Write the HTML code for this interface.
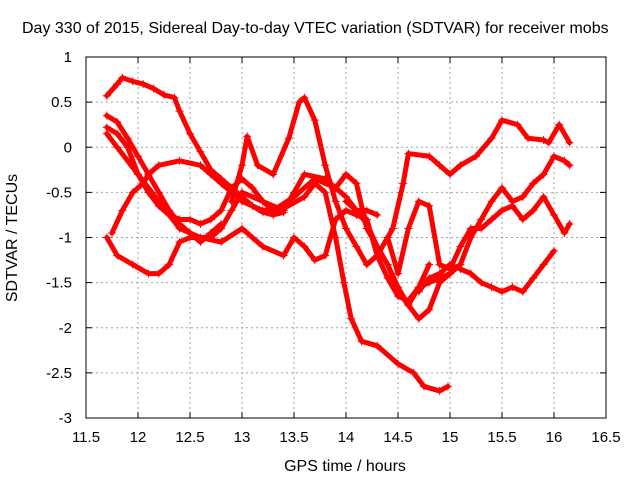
<!DOCTYPE html>
<html><head><meta charset="utf-8"><style>
body{margin:0;background:#fff}
svg text{font-family:"Liberation Sans",sans-serif;font-size:15px;fill:#000}
svg text.big{font-size:16px}
</style></head><body>
<svg id="chart" width="640" height="480">
<rect width="640" height="480" fill="#fff"/>
<g id="grid"></g>
<g id="axes"></g>
<g id="series"></g>
<rect x="86" y="57" width="520" height="361" fill="none" stroke="#000" stroke-width="1"/>
<text class="big" x="22" y="33">Day 330 of 2015, Sidereal Day-to-day VTEC variation (SDTVAR) for receiver mobs</text>
<text class="big" x="345" y="471" text-anchor="middle">GPS time / hours</text>
<text class="big" transform="translate(17,238) rotate(-90)" text-anchor="middle">SDTVAR / TECUs</text>
</svg>
<script>
const xTicks=[11.5,12,12.5,13,13.5,14,14.5,15,15.5,16,16.5];
const xTickLabels=["11.5","12","12.5","13","13.5","14","14.5","15","15.5","16","16.5"];
const yTicks=[1,0.5,0,-0.5,-1,-1.5,-2,-2.5,-3];
const yTickLabels=["1","0.5","0","-0.5","-1","-1.5","-2","-2.5","-3"];
const t1x=[11.7,11.8,11.85,11.95,12.05,12.15,12.25,12.35,12.4,12.5,12.6,12.7,12.8,12.9,13.0,13.1,13.2,13.3,13.4];
const t1y=[0.57,0.7,0.77,0.73,0.7,0.65,0.58,0.55,0.4,0.15,-0.05,-0.25,-0.35,-0.45,-0.55,-0.65,-0.72,-0.75,-0.72];
const t2x=[11.7,11.8,11.95,12.1,12.2,12.3,12.4,12.5,12.7,12.8,12.9,13.0,13.2,13.4,13.5,13.6,13.8,13.9,14.0,14.1,14.2,14.3,14.4,14.5,14.6,14.7,14.8,14.9,15.0,15.1];
const t2y=[-1.0,-1.2,-1.3,-1.4,-1.4,-1.3,-1.05,-1.0,-1.0,-0.9,-0.7,-0.5,-0.6,-0.7,-0.5,-0.3,-0.35,-0.45,-0.3,-0.4,-0.9,-1.1,-1.3,-1.6,-1.75,-1.55,-1.5,-1.45,-1.4,-1.3];
const t3x=[11.75,11.85,11.95,12.05,12.1,12.2,12.4,12.6,12.7,12.8,12.9,13.0,13.2,13.4,13.6,13.7,13.8,13.9,13.98,14.05,14.15,14.3,14.5,14.65,14.75,14.9,14.98];
const t3y=[-0.95,-0.7,-0.5,-0.4,-0.3,-0.2,-0.15,-0.2,-0.3,-0.4,-0.5,-0.6,-0.7,-0.68,-0.55,-0.4,-0.5,-1.0,-1.5,-1.9,-2.15,-2.2,-2.4,-2.5,-2.65,-2.7,-2.65];
const t4x=[11.7,11.8,11.9,12.0,12.1,12.2,12.3,12.4,12.5,12.6,12.7,12.8];
const t4y=[0.35,0.28,0.1,-0.1,-0.3,-0.5,-0.7,-0.85,-0.95,-1.05,-0.95,-0.85];
const t5x=[11.7,11.8,11.9,12.0,12.1,12.2,12.3,12.4,12.5,12.6,12.7,12.8,12.9,13.0,13.1,13.2,13.3,13.5,13.7,13.9,14.0,14.1,14.2,14.3];
const t5y=[0.22,0.15,0.0,-0.3,-0.5,-0.65,-0.75,-0.8,-0.8,-0.85,-0.8,-0.7,-0.45,-0.35,-0.45,-0.6,-0.7,-0.55,-0.35,-0.45,-0.55,-0.7,-0.7,-0.75];
const t6x=[11.7,11.8,12.0,12.2,12.4,12.6,12.8,13.0,13.2,13.4,13.5,13.6,13.7,13.8,13.9,14.0,14.1,14.2,14.3,14.4,14.5,14.6,14.7,14.8];
const t6y=[0.15,0.0,-0.3,-0.6,-0.9,-1.0,-1.05,-0.9,-1.1,-1.2,-1.0,-1.1,-1.25,-1.2,-0.8,-0.7,-0.75,-0.8,-1.2,-1.45,-1.65,-1.7,-1.55,-1.3];
const t7x=[12.9,13.0,13.05,13.15,13.3,13.45,13.55,13.6,13.7,13.8,13.9,14.0,14.1,14.2,14.3,14.45,14.55,14.6,14.8,14.9,15.0,15.1,15.25,15.4,15.5,15.65,15.75,15.9,15.95,16.05,16.15];
const t7y=[-0.6,-0.2,0.12,-0.2,-0.3,0.1,0.5,0.55,0.3,-0.2,-0.6,-0.9,-1.1,-1.3,-1.2,-0.9,-0.4,-0.07,-0.1,-0.2,-0.3,-0.2,-0.1,0.1,0.3,0.25,0.1,0.08,0.05,0.25,0.05];
const t8x=[14.0,14.1,14.2,14.3,14.4,14.5,14.6,14.7,14.8,14.9,15.0,15.1,15.2,15.3,15.4,15.5,15.6,15.7,15.8,15.9,16.0,16.1,16.15];
const t8y=[-0.6,-0.7,-0.85,-1.1,-1.3,-1.55,-1.75,-1.9,-1.8,-1.5,-1.4,-1.3,-1.0,-0.8,-0.6,-0.45,-0.6,-0.55,-0.4,-0.3,-0.1,-0.15,-0.2];
const t9x=[14.4,14.5,14.6,14.7,14.8,14.9,15.0,15.1,15.2,15.3,15.4,15.5,15.6,15.7,15.8,15.9,16.0,16.1,16.15];
const t9y=[-1.0,-1.4,-0.9,-0.6,-0.65,-1.3,-1.35,-1.1,-0.9,-0.9,-0.8,-0.7,-0.65,-0.8,-0.7,-0.55,-0.75,-0.95,-0.85];
const t10x=[14.7,14.8,14.9,15.0,15.1,15.2,15.3,15.4,15.5,15.6,15.7,15.8,15.9,16.0];
const t10y=[-1.6,-1.45,-1.4,-1.3,-1.35,-1.4,-1.5,-1.55,-1.6,-1.55,-1.6,-1.45,-1.3,-1.15];
const tracks=[[t1x,t1y],[t2x,t2y],[t3x,t3y],[t4x,t4y],[t5x,t5y],[t6x,t6y],[t7x,t7y],[t8x,t8y],[t9x,t9y],[t10x,t10y]];

const NS="http://www.w3.org/2000/svg";
const X0=86,X1=606,Y0=418,Y1=57;
function sx(v){return X0+(v-11.5)/(16.5-11.5)*(X1-X0);}
function sy(v){return Y0-(v+3)/4*(Y0-Y1);}
function mk(tag,attrs,parent){const e=document.createElementNS(NS,tag);for(const k in attrs)e.setAttribute(k,attrs[k]);parent.appendChild(e);return e;}
const grid=document.getElementById('grid'),axes=document.getElementById('axes'),ser=document.getElementById('series');
xTicks.forEach((t,i)=>{const x=sx(t);
 if(i>0&&i<xTicks.length-1){const g=mk('line',{x1:x,x2:x,y1:Y1,y2:Y0,stroke:'#a0a0a0','stroke-dasharray':'2,3'},grid);
 
 }
 mk('line',{x1:x,x2:x,y1:Y0,y2:Y0-6,stroke:'#000'},axes);mk('line',{x1:x,x2:x,y1:Y1,y2:Y1+6,stroke:'#000'},axes);
 const tx=mk('text',{x:x,y:Y0+24,'text-anchor':'middle'},axes);tx.textContent=xTickLabels[i];
 
 });
yTicks.forEach((t,i)=>{const y=sy(t);
 if(i>0&&i<yTicks.length-1){const g=mk('line',{x1:X0,x2:X1,y1:y,y2:y,stroke:'#a0a0a0','stroke-dasharray':'2,3'},grid);
 
 }
 mk('line',{x1:X0,x2:X0+6,y1:y,y2:y,stroke:'#000'},axes);mk('line',{x1:X1,x2:X1-6,y1:y,y2:y,stroke:'#000'},axes);
 const tx=mk('text',{x:X0-14,y:y+5,'text-anchor':'end'},axes);tx.textContent=yTickLabels[i];
 
 });
tracks.forEach((tr,k)=>{const xs=tr[0],ys=tr[1];
 const g=mk('g',{},ser);
 
 
 const pts=xs.map((x,i)=>sx(x)+','+sy(ys[i])).join(' ');
 mk('polyline',{points:pts,fill:'none',stroke:'#f00','stroke-width':5,'stroke-linejoin':'round','stroke-linecap':'round'},g);
 xs.forEach((x,i)=>{const px=sx(x),py=sy(ys[i]);
  mk('path',{d:`M${px-4},${py}h8M${px},${py-4}v8`,stroke:'#f00','stroke-width':1},g);});
});
</script>
</body></html>
